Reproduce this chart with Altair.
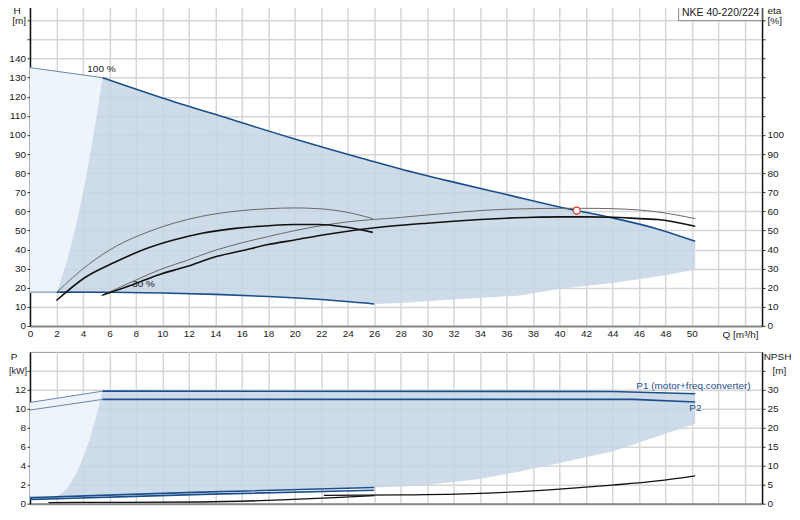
import altair as alt
import pandas as pd

# ---------------- data ----------------
q_ticks = list(range(0, 56, 2))
h_ticks = list(range(0, 161, 10))
p_ticks = list(range(0, 15, 2))
npsh_ticks = list(range(0, 36, 5))

# top panel: head H [m]
hmax_thin_q = [0, 5.48]
hmax_thin_h = [135.3, 130.0]
hmax_q = [5.48, 10, 15, 20, 26, 28, 32, 36, 40, 44, 47.4, 50.25]
hmax_h = [130.0, 119.4, 108.6, 97.9, 86.0, 82.2, 75.3, 68.8, 62.3, 56.6, 50.8, 44.3]
hmin_thin_q = [0, 2.03]
hmin_thin_h = [17.7, 17.7]
hmin_q = [2.03, 6, 10, 14, 18, 22, 26]
hmin_h = [17.7, 17.6, 17.2, 16.5, 15.4, 13.8, 11.5]
hsys_q = [2.03, 2.5, 3.0, 3.5, 4.0, 4.5, 5.0, 5.48]
hsys_h = [17.7, 27.4, 39.3, 53.3, 69.5, 87.9, 108.4, 130.0]
hbot_q = [26, 28, 32, 36, 37, 40, 44, 48, 50.25]
hbot_h = [11.5, 12.0, 13.8, 15.5, 15.9, 19.5, 22.5, 26.5, 29.5]

# efficiency curves eta [%]
etaA_q = [2.02, 4.4, 6.5, 8.9, 10.9, 12.9, 16, 18, 20, 21.8, 23.8, 25.9]
etaA = [17.6, 32.1, 41.7, 49.2, 53.9, 57.3, 60.4, 61.4, 61.8, 61.4, 59.7, 56.2]
etaB_q = [2.0, 4.1, 6.4, 8.6, 10.7, 12.9, 15.5, 18, 20, 21.8, 23.8, 25.9]
etaB = [13.3, 25.1, 33.3, 40.0, 44.7, 48.4, 51.1, 52.5, 53.1, 53.1, 51.8, 49.0]
etaC_q = [5.36, 7.9, 9.9, 11.9, 13.9, 16, 18, 20, 22, 24, 28, 30, 32, 34, 36, 38, 40, 42, 44, 46, 47.4, 50.25]
etaC = [15.7, 23.7, 29.7, 34.4, 39.4, 43.5, 46.8, 49.9, 52.5, 54.5, 56.8, 58.1, 59.3, 60.4, 61.1, 61.4, 61.6, 61.6, 61.4, 60.7, 59.7, 56.2]
etaD_q = [5.5, 7.9, 9.9, 11.9, 13.9, 16, 18, 20, 22, 24, 28, 30, 32, 34, 36, 38, 40, 42, 44, 46, 47.4, 50.25]
etaD = [16.2, 22.0, 27.2, 31.2, 36.0, 39.4, 42.6, 45.0, 47.5, 49.6, 52.7, 53.8, 54.8, 55.7, 56.4, 56.9, 57.1, 57.1, 56.9, 56.2, 55.7, 52.2]
duty_q = [41.3]
duty_h = [60.4]

top_labels = ["100 %", "30 %"]
top_label_q = [4.33, 7.72]
top_label_h = [132.8, 20.3]
box_text = ["NKE 40-220/224"]
box_q = [49.0, 55.3]
box_h = [159.9, 169.6]
box_text_q = [49.25]
box_text_h = [162.4]

# bottom panel: power P [kW], NPSH [m]
p1_thin_q = [0, 5.48]
p1_thin = [10.67, 11.86]
p1_q = [5.48, 44, 50.25]
p1 = [11.86, 11.83, 11.58]
p2_thin_q = [0, 5.48]
p2_thin = [9.87, 10.99]
p2_q = [5.48, 45.6, 50.25]
p2 = [10.99, 10.99, 10.71]
p1low_q = [0, 2, 13, 26]
p1low = [0.64, 0.72, 1.22, 1.70]
p2low_q = [0, 2, 13, 26]
p2low = [0.45, 0.52, 0.98, 1.42]
psys_q = [2.0, 2.5, 3.0, 3.5, 4.0, 4.5, 5.0, 5.48]
psys = [0.72, 1.2, 2.0, 3.2, 4.8, 6.8, 9.2, 11.86]
pbot_q = [26, 28, 30, 34, 37, 40, 44, 47.6, 50.25]
pbot = [1.70, 1.82, 2.0, 2.6, 3.4, 4.3, 5.5, 7.2, 8.43]
npsh_q = [22.2, 28, 34, 40, 44, 47.4, 50.25]
npsh = [2.2, 2.3, 2.7, 3.85, 4.9, 6.0, 7.35]
npshlow_q = [1.4, 6, 13, 19, 23, 26]
npshlow = [0.3, 0.35, 0.45, 1.0, 1.6, 2.1]

bot_labels = ["P1 (motor+freq.converter)", "P2"]
bot_label_q = [45.8, 49.8]
bot_label_p = [12.08, 9.77]

# ---------------- styling ----------------
FONT = "Liberation Sans"
BLUE = "#1b4f8c"
THIN = "#6a86a8"
FILL = "#c6d5e4"
LIGHT = "#edf4fc"
GRID = "#d6d6d6"
TXT = "#1a1a1a"
W = 733
H_TOP = 325
H_BOT = 152


def df(q, v):
    return pd.DataFrame({"Q": q, "V": v})


def poly(q, v):
    return pd.DataFrame({"Q": q, "V": v, "i": list(range(len(q)))})


def xenc(show_labels):
    if show_labels:
        ax = alt.Axis(
            values=q_ticks, grid=True, gridColor=GRID, gridWidth=1.5, ticks=False,
            domainColor="#8a8a8a", domainWidth=2, labelOverlap=False, labelFlush=False,
            labelFont=FONT, labelFontSize=10, labelColor=TXT, labelPadding=3,
            labelExpr="datum.value <= 50 ? datum.label : ''",
            title="Q [m³/h]", titleFont=FONT, titleFontSize=10, titleFontWeight="normal",
            titleColor=TXT, titleX=711, titleY=12, titleAlign="center",
            titleBaseline="alphabetic", titleAngle=0,
        )
    else:
        ax = alt.Axis(
            values=q_ticks, grid=True, gridColor=GRID, gridWidth=1.5, ticks=False,
            domainColor="#8a8a8a", domainWidth=2, labels=False, title=None,
        )
    return alt.X("Q:Q", scale=alt.Scale(domain=[0, 55.3], nice=False, zero=False), axis=ax)


def yenc(domain, values, maxlab, unit_at, unit, title, orient, grid, tx, talign, ty,
         unit_size=10, unit_pad=None):
    left = orient == "left"
    base_pad = 1.5 if left else 2
    pad = base_pad if unit_pad is None else {
        "condition": {"test": f"datum.value == {unit_at}", "value": unit_pad}, "value": base_pad}
    ax = alt.Axis(
        orient=orient, values=values, grid=grid, gridColor=GRID, gridWidth=1.5,
        ticks=True, tickSize=3, tickColor="#333333", domainColor="#111111", domainWidth=1.5,
        labelFont=FONT, labelColor=TXT,
        labelFontSize={"condition": {"test": f"datum.value == {unit_at}", "value": unit_size}, "value": 10},
        labelPadding=pad, labelOverlap=False, labelFlush=False,
        labelExpr=f"datum.value == {unit_at} ? '{unit}' : (datum.value <= {maxlab} ? datum.label : '')",
        title=title, titleFont=FONT, titleFontSize=10, titleFontWeight="normal",
        titleColor=TXT, titleAngle=0, titleX=tx, titleY=ty, titleAlign=talign,
        titleBaseline="alphabetic",
    )
    return alt.Y("V:Q", scale=alt.Scale(domain=domain, nice=False, zero=False), axis=ax)


def line(data, y, x, color, width, interp="monotone"):
    return alt.Chart(data).mark_line(color=color, strokeWidth=width, interpolate=interp).encode(x=x, y=y)


def fillpoly(data, y, x, color, opacity):
    return alt.Chart(data).mark_line(
        fill=color, fillOpacity=opacity, strokeWidth=0, strokeOpacity=0, interpolate="linear"
    ).encode(x=x, y=y, order="i:Q")


# ---------------- top panel ----------------
xt = xenc(True)
yh = yenc([0, 170], h_ticks, 140, 160, "[m]", "H", "left", True, -13.3, "center", 12)
ye = yenc([0, 170], h_ticks, 100, 160, "[%]", "eta", "right", False, 5, "left", 12)

light_top = poly(
    [0, 0] + hmax_thin_q[1:] + hsys_q[::-1][1:],
    [hmin_thin_h[0], hmax_thin_h[0]] + hmax_thin_h[1:] + hsys_h[::-1][1:],
)
gray_top = poly(
    hsys_q + hmax_q[1:] + hbot_q[::-1] + hmin_q[::-1][1:],
    hsys_h + hmax_h[1:] + hbot_h[::-1] + hmin_h[::-1][1:],
)

top_lbl = pd.DataFrame({"Q": top_label_q, "V": top_label_h, "t": top_labels})
box_df = pd.DataFrame({"Q": [box_q[0]], "Q2": [box_q[1]], "V": [box_h[0]], "V2": [box_h[1]]})
box_t = pd.DataFrame({"Q": box_text_q, "V": box_text_h, "t": box_text})

h_group = alt.layer(
    fillpoly(light_top, yh, xt, LIGHT, 1.0),
    fillpoly(gray_top, yh, xt, FILL, 0.85),
    line(df(hmin_thin_q, hmin_thin_h), yh, xt, "#a7b9cc", 2, "linear"),
    line(df(hmax_thin_q, hmax_thin_h), yh, xt, THIN, 1, "linear"),
    line(df(hmax_q, hmax_h), yh, xt, BLUE, 1.6),
    line(df(hmin_q, hmin_h), yh, xt, BLUE, 1.6),
    alt.Chart(top_lbl).mark_text(align="left", baseline="alphabetic", font=FONT, fontSize=10, color=TXT)
    .encode(x=xt, y=yh, text="t:N"),
    alt.Chart(box_df).mark_rect(fill="white", stroke="#8a8a8a", strokeWidth=1)
    .encode(x=xt, x2="Q2:Q", y=yh, y2="V2:Q"),
    alt.Chart(box_t).mark_text(align="left", baseline="alphabetic", font=FONT, fontSize=10.5, color=TXT)
    .encode(x=xt, y=yh, text="t:N"),
)

eta_group = alt.layer(
    line(df(etaA_q, etaA), ye, xt, "#666666", 1),
    line(df(etaC_q, etaC), ye, xt, "#666666", 1),
    line(df(etaB_q, etaB), ye, xt, "#111111", 1.6),
    line(df(etaD_q, etaD), ye, xt, "#111111", 1.6),
    alt.Chart(df(duty_q, duty_h)).mark_point(shape="circle", size=50, filled=True, fill="white",
                                               stroke="#e8302a", strokeWidth=1.2, opacity=1)
    .encode(x=xt, y=ye),
)

top = (
    alt.layer(h_group, eta_group)
    .resolve_scale(y="independent")
    .properties(width=W, height=H_TOP, view=alt.ViewBackground(stroke="transparent"))
)

# ---------------- bottom panel ----------------
xb = xenc(False)
yp = yenc([0, 16], p_ticks, 12, 14, "[kW]", "P", "left", True, -16.3, "center", 8,
          unit_size=9, unit_pad=0.5)
yn = yenc([0, 40], npsh_ticks, 30, 35, "[m]", "NPSH", "right", False, 15, "center", 8,
          unit_pad=7)

light_bot = poly(
    [0, 0] + p1_thin_q[1:] + psys_q[::-1][1:],
    [p1low[0], p1_thin[0]] + p1_thin[1:] + psys[::-1][1:],
)
gray_bot = poly(
    psys_q + p1_q[1:] + pbot_q[::-1] + p1low_q[::-1][1:],
    psys + p1[1:] + pbot[::-1] + p1low[::-1][1:],
)
bot_lbl = pd.DataFrame({"Q": bot_label_q, "V": bot_label_p, "t": bot_labels})

p_group = alt.layer(
    fillpoly(light_bot, yp, xb, LIGHT, 1.0),
    fillpoly(gray_bot, yp, xb, FILL, 0.85),
    line(df(p1_thin_q, p1_thin), yp, xb, THIN, 1, "linear"),
    line(df(p2_thin_q, p2_thin), yp, xb, THIN, 1, "linear"),
    line(df(p1_q, p1), yp, xb, BLUE, 1.6, "linear"),
    line(df(p2_q, p2), yp, xb, BLUE, 1.6, "linear"),
    line(df(p1low_q, p1low), yp, xb, BLUE, 1.6),
    line(df(p2low_q, p2low), yp, xb, BLUE, 1.6),
    alt.Chart(bot_lbl).mark_text(align="left", baseline="alphabetic", font=FONT, fontSize=10, color=BLUE)
    .encode(x=xb, y=yp, text="t:N"),
)
n_group = alt.layer(
    line(df(npshlow_q, npshlow), yn, xb, "#111111", 1.3),
    line(df(npsh_q, npsh), yn, xb, "#111111", 1.3),
)
bottom = (
    alt.layer(p_group, n_group)
    .resolve_scale(y="independent")
    .properties(width=W, height=H_BOT, view=alt.ViewBackground(stroke="#9a9a9a", strokeWidth=1))
)

chart = (
    alt.vconcat(top, bottom, spacing=26, bounds="flush")
    .properties(padding={"left": 0, "top": -8, "right": 0, "bottom": 0})
    .configure(font=FONT)
)

chart.save("out.html", embed_options={"renderer": "svg", "actions": False})
